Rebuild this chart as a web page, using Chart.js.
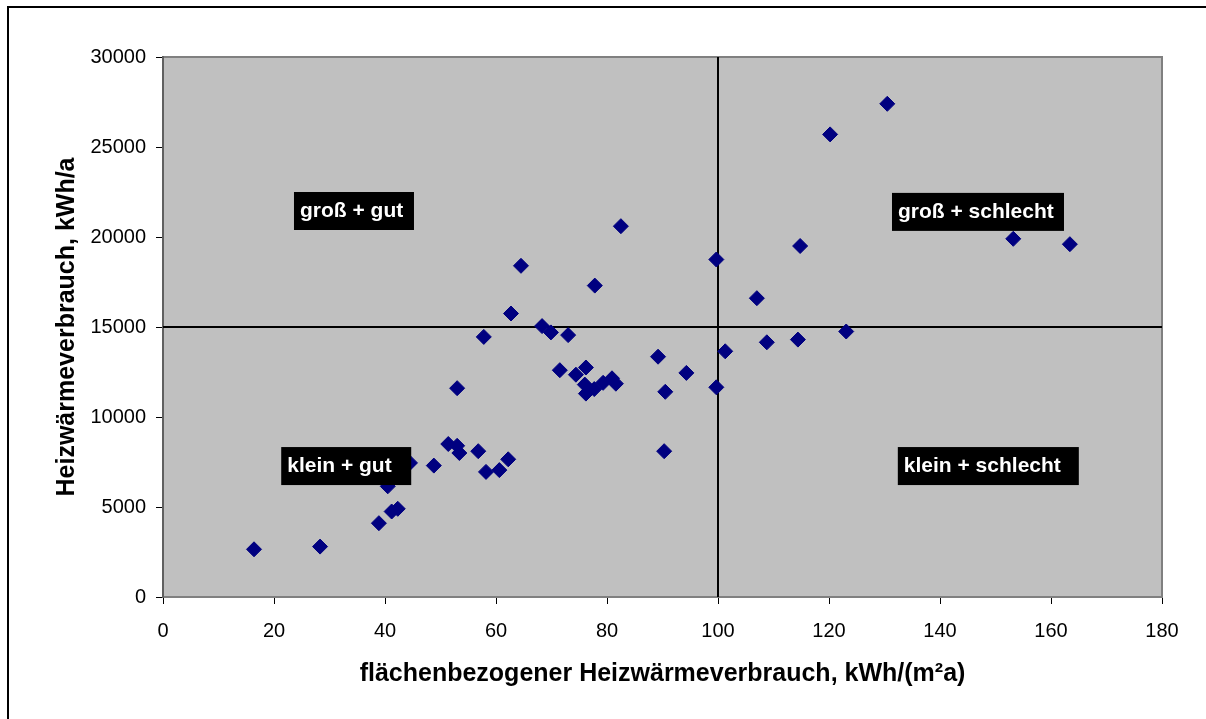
<!DOCTYPE html>
<html>
<head>
<meta charset="utf-8">
<script src="https://cdn.jsdelivr.net/npm/chart.js@4/dist/chart.umd.min.js"></script>
<style>
  html, body { margin: 0; padding: 0; background: #ffffff; }
  #wrap { width: 1206px; height: 719px; position: relative; }
</style>
</head>
<body>
<div id="wrap"><canvas id="c" width="1206" height="719"></canvas></div>
<script>
// ---- data ----
const areaSpecific = [16.4, 28.3, 38.9, 41.2, 42.3, 40.5, 44.5, 48.8, 51.4, 53.0, 53.4, 56.8, 58.2, 60.6, 62.2,
  53.0, 57.8, 62.7, 64.5, 68.3, 69.9, 73.0, 71.5, 74.4, 76.2, 76.0, 76.2, 77.7, 79.3, 80.9, 81.6,
  77.8, 82.5, 89.2, 90.5, 90.3, 94.3, 99.7, 99.7, 101.3, 107.0, 108.8, 114.4, 114.8, 120.2, 123.1,
  130.5, 153.2, 163.4];
const annualUse = [2650, 2800, 4100, 4750, 4900, 6150, 7450, 7300, 8500, 8400, 8000, 8100, 6950, 7050, 7650,
  11600, 14450, 15750, 18400, 15050, 14700, 14550, 12600, 12350, 12750, 11800, 11300, 11550, 11900, 12150, 11850,
  17300, 20600, 13350, 11400, 8100, 12450, 11650, 18750, 13650, 16600, 14150, 14300, 19500, 25700, 14750,
  27400, 19900, 19600];
const quadrantLabels = ["groß + gut", "groß + schlecht", "klein + gut", "klein + schlecht"];
const quadrantLabelX = [23.6, 131.35, 21.3, 132.4];
const quadrantLabelY = [22500, 22450, 8330, 8330];
const thresholdX = 100;
const thresholdY = 15000;
const xTitle = "flächenbezogener Heizwärmeverbrauch, kWh/(m²a)";
const yTitle = "Heizwärmeverbrauch, kWh/a";

const points = areaSpecific.map((x, i) => ({ x: x, y: annualUse[i] }));
const FONT = '"Liberation Sans", Arial, sans-serif';
const labelBoxWidths = [120, 172, 130, 181];

const decor = {
  id: 'decor',
  beforeDraw(chart) {
    const { ctx, chartArea: a } = chart;
    ctx.save();
    ctx.fillStyle = '#ffffff';
    ctx.fillRect(0, 0, chart.width, chart.height);
    ctx.strokeStyle = '#000000';
    ctx.lineWidth = 2;
    ctx.strokeRect(8, 7, 1210, 730);
    ctx.fillStyle = '#c0c0c0';
    ctx.fillRect(a.left, a.top, a.right - a.left, a.bottom - a.top);
    ctx.strokeStyle = '#808080';
    ctx.lineWidth = 2;
    ctx.beginPath();
    ctx.moveTo(a.left, a.top);
    ctx.lineTo(a.right, a.top);
    ctx.lineTo(a.right, a.bottom);
    ctx.stroke();
    ctx.restore();
  },
  beforeDatasetsDraw(chart) {
    const { ctx, chartArea: a, scales } = chart;
    const px = Math.round(scales.x.getPixelForValue(thresholdX));
    const py = Math.round(scales.y.getPixelForValue(thresholdY));
    ctx.save();
    ctx.strokeStyle = '#000000';
    ctx.lineWidth = 2;
    ctx.beginPath();
    ctx.moveTo(px, a.top);
    ctx.lineTo(px, a.bottom);
    ctx.moveTo(a.left, py);
    ctx.lineTo(a.right, py);
    ctx.stroke();
    ctx.restore();
  },
  afterDatasetsDraw(chart) {
    const { ctx, scales } = chart;
    ctx.save();
    ctx.font = 'bold 21px ' + FONT;
    ctx.textBaseline = 'middle';
    ctx.textAlign = 'left';
    quadrantLabels.forEach((t, i) => {
      const left = scales.x.getPixelForValue(quadrantLabelX[i]);
      const top = scales.y.getPixelForValue(quadrantLabelY[i]);
      ctx.fillStyle = '#000000';
      ctx.fillRect(left, top, labelBoxWidths[i], 38);
      ctx.fillStyle = '#ffffff';
      ctx.fillText(t, left + 6, top + 19);
    });
    ctx.restore();
  }
};

new Chart(document.getElementById('c'), {
  type: 'scatter',
  data: {
    datasets: [{
      data: points,
      pointStyle: 'rectRot',
      pointRadius: 7.5,
      pointHoverRadius: 7.5,
      backgroundColor: '#000080',
      borderColor: '#000080',
      borderWidth: 1
    }]
  },
  options: {
    responsive: false,
    animation: false,
    devicePixelRatio: 1,
    layout: { padding: { left: 10, top: 57, right: 44, bottom: 0 } },
    plugins: { legend: { display: false }, tooltip: { enabled: false } },
    scales: {
      x: {
        type: 'linear', min: 0, max: 180,
        ticks: { stepSize: 20, color: '#000000', font: { family: FONT, size: 20 }, padding: 15, maxRotation: 0,
          callback: (v) => String(v) },
        grid: { drawOnChartArea: false, drawTicks: true, tickLength: 7, tickColor: '#000000', tickWidth: 1 },
        border: { display: true, color: '#808080', width: 2 },
        title: { display: true, text: xTitle, color: '#000000', font: { family: FONT, size: 25, weight: 'bold' }, padding: { top: 0, bottom: 30 } },
        afterFit(s) { s.height = 122; }
      },
      y: {
        type: 'linear', min: 0, max: 30000,
        ticks: { stepSize: 5000, color: '#000000', font: { family: FONT, size: 20 }, padding: 10,
          callback: (v) => String(v) },
        grid: { drawOnChartArea: false, drawTicks: true, tickLength: 7, tickColor: '#000000', tickWidth: 1 },
        border: { display: true, color: '#606060', width: 2 },
        title: { display: true, text: yTitle, color: '#000000', font: { family: FONT, size: 25, weight: 'bold' }, padding: { top: 42, bottom: 0 } },
        afterFit(s) { s.width = 153; }
      }
    }
  },
  plugins: [decor]
});
</script>
</body>
</html>
